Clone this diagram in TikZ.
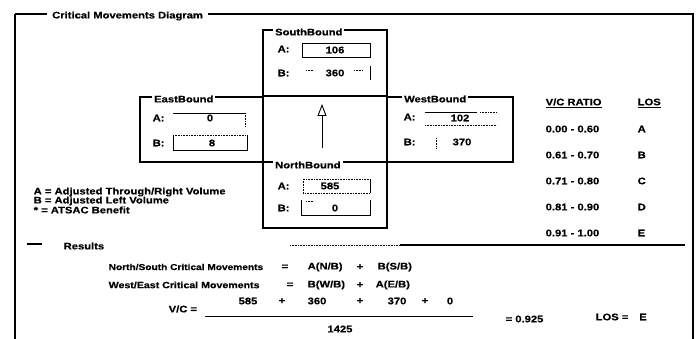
\documentclass[tikz,border=0pt]{standalone}
\usepackage{fontspec}
\setmainfont{Liberation Sans}[FakeStretch=1.18, BoldFeatures={FakeBold=0.4}]
\usetikzlibrary{arrows.meta}

\begin{document}
\begin{tikzpicture}[x=1pt, y=-1pt,
  every node/.style={font=\fontsize{9.5}{10}\selectfont\bfseries, inner sep=0.5pt},
  frame/.style={line width=1.4pt},
  boxline/.style={line width=1.1pt},
  fld/.style={line width=0.6pt},
  fldgap/.style={line width=0.6pt, densely dotted},
  legend/.style={anchor=west, fill=white, inner xsep=2pt},
  lbl/.style={anchor=west}]
\useasboundingbox (0,0) rectangle (699,339);
% ---- outer frame
\draw[line width=2.6pt] (15,14) -- (15,339);
\draw[frame] (15,14) -- (693,14) -- (693,339);
\node[legend, inner xsep=5pt] (title) at (47,16) {Critical Movements Diagram};

% ---- approach boxes
\draw[boxline] (263,30) rectangle (387,96);
\draw[boxline] (140,97) rectangle (263,162);
\draw[boxline] (387,97) rectangle (513,162);
\draw[boxline] (263,162) rectangle (387,228);
\node[legend] (sbT) at (273,32) {SouthBound};
\node[legend] (ebT) at (152,99) {EastBound};
\node[legend] (wbT) at (402,99) {WestBound};
\node[legend] (nbT) at (273,165) {NorthBound};

% southbound
\node[lbl] (sbA) at (277,49) {A:};
\draw[fld] (302,43) rectangle (370,57);
\node (sbAv) at (335,50) {106};
\node[lbl] (sbB) at (277,73) {B:};
\draw[fld] (370,66) -- (370,80);
\draw[fldgap] (306,70) -- (313,70) (354,70) -- (363,70);
\node (sbBv) at (335,73) {360};

% eastbound
\node[lbl] (ebA) at (152,118) {A:};
\draw[fld] (173,113) -- (245,113);
\draw[fldgap] (245,113) -- (245,126);
\node (ebAv) at (210,118) {0};
\node[lbl] (ebB) at (152,143) {B:};
\draw[fld] (173,135) -- (173,150) -- (247,150) -- (247,135);
\draw[fldgap] (173,135) -- (247,135);
\node (ebBv) at (212,143) {8};

% westbound
\node[lbl] (wbA) at (403,117) {A:};
\draw[fld] (425,112) -- (477,112);
\draw[fldgap] (480,112) -- (497,112) (425,125) -- (497,125);
\node (wbAv) at (460,118) {102};
\node[lbl] (wbB) at (403,142) {B:};
\draw[fldgap] (436,138) -- (436,148);
\node (wbBv) at (462,142) {370};

% northbound
\node[lbl] (nbA) at (277,186) {A:};
\draw[fldgap] (303,179) rectangle (370,193);
\draw[fld] (370,179) -- (370,193);
\node (nbAv) at (330,186) {585};
\node[lbl] (nbB) at (277,208) {B:};
\draw[fld] (301,200) -- (301,215) -- (370,215) -- (370,200);
\draw[fldgap] (306,201) -- (313,201);
\node (nbBv) at (335,208) {0};

% ---- centre arrow
\coordinate (tail) at (322,148);
\coordinate (head) at (322,104);
\draw[line width=0.8pt, -{Triangle[open, length=12pt, width=9pt, line width=0.9pt]}] (tail) -- (head);

% ---- legend
\node[lbl] (keyA) at (33,192) {A = Adjusted Through/Right Volume};
\node[lbl] (keyB) at (33,201) {B = Adjusted Left Volume};
\node[lbl] (keyS) at (33,210) {* = ATSAC Benefit};

% ---- V/C table
\node[lbl] (vcr) at (545,103) {\underline{V/C RATIO}};
\node[lbl] (los) at (637,103) {\underline{LOS}};
\foreach \v/\l [count=\i] in {0.00 - 0.60/A, 0.61 - 0.70/B, 0.71 - 0.80/C, 0.81 - 0.90/D, 0.91 - 1.00/E}
  {\node[lbl] (rng\i) at (545,103+26*\i) {\v};
   \node[lbl] (grd\i) at (637,103+26*\i) {\l};}

% ---- results
\draw[frame] (27,244) -- (42,244);
\node[lbl] (res) at (63,246) {Results};
\draw[fldgap] (290,245) -- (400,245);
\draw[frame] (400,245) -- (685,245);

\node[lbl, font=\fontsize{8.6}{10}\selectfont\bfseries] (ns) at (108,267) {North/South Critical Movements};
\node (nsEq) at (285,267) {=};
\node[lbl] (nsA) at (307,267) {A(N/B)};
\node (nsPl) at (360,267) {+};
\node[lbl] (nsB) at (377,267) {B(S/B)};

\node[lbl, font=\fontsize{9}{10}\selectfont\bfseries] (we) at (108,285) {West/East Critical Movements};
\node (weEq) at (290,285) {=};
\node[lbl] (weB) at (307,285) {B(W/B)};
\node (wePl) at (360,285) {+};
\node[lbl] (weA) at (375,285) {A(E/B)};

\node[lbl] (vc) at (168,309) {V/C =};
\node (n1) at (248,301) {585};
\node (p1) at (282,301) {+};
\node (n2) at (317,301) {360};
\node (p2) at (360,301) {+};
\node (n3) at (397,301) {370};
\node (p3) at (425,301) {+};
\node (n4) at (450,301) {0};
\draw[line width=0.9pt] (205,316) -- (473,316);
\node (den) at (340,329) {1425};
\node[lbl] (ratio) at (505,319) {= 0.925};
\node[lbl] (losEq) at (595,317) {LOS =};
\node (losV) at (643,317) {E};
\end{tikzpicture}
\end{document}
